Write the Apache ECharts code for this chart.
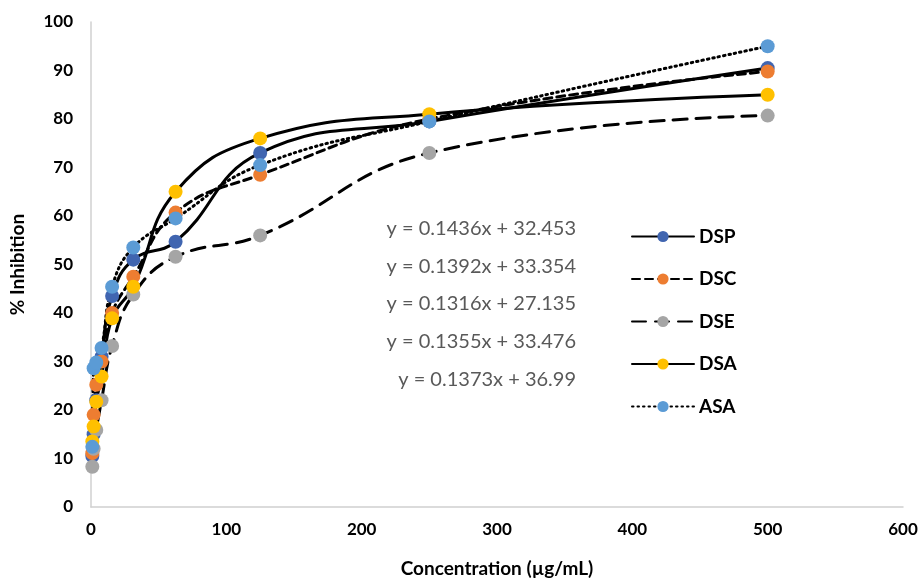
<!DOCTYPE html>
<html>
<head>
<meta charset="utf-8">
<script src="https://cdn.jsdelivr.net/npm/echarts@6/dist/echarts.min.js"></script>
<style>
  html, body { margin: 0; padding: 0; background: #fff; }
  #chart { width: 922px; height: 579px; }
</style>
</head>
<body>
<div id="chart"></div>
<script>
// concentration (µg/mL) and % inhibition per extract
var conc = [0.98, 1.95, 3.9, 7.8, 15.6, 31.25, 62.5, 125, 250, 500];
var dsp = [10.5, 15, 22, 31, 43.5, 51, 54.7, 73, 79.5, 90.5];
var dsc = [11.1, 19, 25.2, 30, 40, 47.5, 60.7, 68.5, 80, 89.8];
var dse = [8.3, 12, 15.9, 22, 33.2, 43.8, 51.6, 56, 73, 80.7];
var dsa = [13.5, 16.6, 21.7, 26.9, 38.9, 45.4, 65, 76, 81, 85];
var asa = [12.4, 28.6, 29.8, 32.8, 45.4, 53.5, 59.5, 70.5, 79.5, 95];
var equations = [
    'y = 0.1436x + 32.453',
    'y = 0.1392x + 33.354',
    'y = 0.1316x + 27.135',
    'y = 0.1355x + 33.476',
    'y = 0.1373x + 36.99'
];

var font = 'Lato, "Open Sans", sans-serif';

function pairs(ys) {
    return conc.map(function (c, i) { return [c, ys[i]]; });
}

function makeSeries(name, ys, color, dash) {
    return {
        name: name,
        type: 'line',
        data: pairs(ys),
        smooth: 0.45,
        symbol: 'circle',
        symbolSize: 14,
        itemStyle: { color: color },
        lineStyle: { color: '#000', width: 3, type: dash, cap: 'round' }
    };
}

var chart = echarts.init(document.getElementById('chart'));

var eqGraphics = equations.map(function (t, i) {
    return {
        type: 'text',
        right: 922 - 576,
        top: 219 + i * 37.5 + (i === 4 ? 1 : 0),
        style: { text: t, fill: '#595959', font: '20px ' + font }
    };
});

var option = {
    animation: false,
    backgroundColor: '#fff',
    grid: { left: 91, right: 19, top: 22, bottom: 72, containLabel: false, outerBoundsMode: 'none' },
    xAxis: {
        type: 'value',
        min: 0, max: 600, interval: 100,
        name: 'Concentration (µg/mL)',
        nameLocation: 'middle',
        nameGap: 52,
        nameTextStyle: { color: '#000', fontWeight: 'bold', fontSize: 19, fontFamily: font },
        axisLine: { show: true, lineStyle: { color: '#d0d0d0', width: 1.5 } },
        axisTick: { show: false },
        splitLine: { show: false },
        axisLabel: { color: '#000', fontWeight: 'bold', fontSize: 17, fontFamily: font, margin: 14 }
    },
    yAxis: {
        type: 'value',
        min: 0, max: 100, interval: 10,
        name: '% Inhibition',
        nameLocation: 'middle',
        nameGap: 64,
        nameTextStyle: { color: '#000', fontWeight: 'bold', fontSize: 19, fontFamily: font },
        axisLine: { show: true, lineStyle: { color: '#d0d0d0', width: 1.5 } },
        axisTick: { show: false },
        splitLine: { show: false },
        axisLabel: { color: '#000', fontWeight: 'bold', fontSize: 17, fontFamily: font, margin: 18 }
    },
    legend: {
        orient: 'vertical',
        left: 626,
        top: 222,
        itemWidth: 62,
        itemHeight: 14,
        itemGap: 23.5,
        textStyle: { color: '#000', fontWeight: 'bold', fontSize: 19, fontFamily: font },
        data: ['DSP', 'DSC', 'DSE', 'DSA', 'ASA']
    },
    graphic: eqGraphics,
    series: [
        makeSeries('DSP', dsp, '#4065B0', 'solid'),
        makeSeries('DSC', dsc, '#ED7D31', [8, 5]),
        makeSeries('DSE', dse, '#A5A5A5', [14, 9]),
        makeSeries('DSA', dsa, '#FFC000', 'solid'),
        makeSeries('ASA', asa, '#5B9BD5', [1.5, 4])
    ]
};

chart.setOption(option);
</script>
</body>
</html>
